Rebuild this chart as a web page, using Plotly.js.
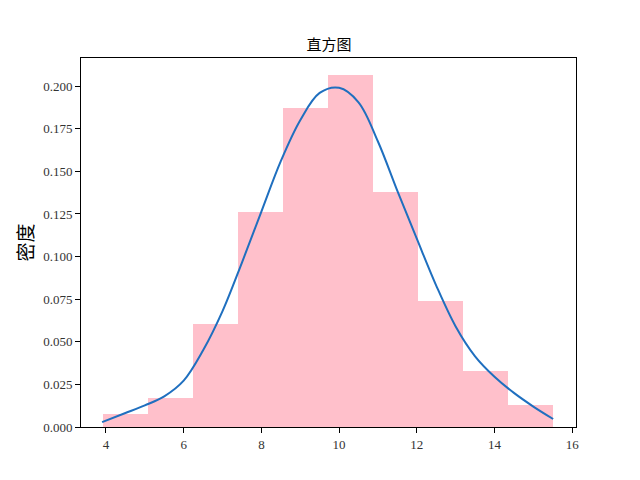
<!DOCTYPE html>
<html>
<head>
<meta charset="utf-8">
<script src="https://cdn.plot.ly/plotly-3.0.1.min.js"></script>
<style>
  html, body { margin: 0; padding: 0; background: #fff; }
  #chart { width: 640px; height: 480px; }
</style>
</head>
<body>
<div id="chart"></div>
<script>
// histogram bins (edges) and density per bin
const binEdges = [3.936, 5.094, 6.252, 7.410, 8.568, 9.726, 10.884, 12.042, 13.200, 14.358, 15.517];
const binDensity = [0.0076, 0.0170, 0.0603, 0.1262, 0.1872, 0.2066, 0.1381, 0.0739, 0.0327, 0.0131];

// kde curve
const kdeX = [3.90, 4.5, 5.0, 5.5, 6.0, 6.5, 7.0, 7.5, 8.0, 8.5, 9.0, 9.5, 10.0,
  10.5, 11.0, 11.5, 12.0, 12.5, 13.0, 13.5, 14.0, 14.5, 15.0, 15.51];
const kdeY = [0.0029, 0.0082, 0.0127, 0.0180, 0.0272, 0.0450, 0.0680, 0.0965, 0.1264, 0.1560, 0.1800, 0.1960, 0.1990,
  0.1905, 0.1675, 0.1385, 0.1105, 0.0830, 0.0590, 0.0415, 0.0295, 0.0200, 0.0120, 0.0047];

const yTicks = [0, 0.025, 0.05, 0.075, 0.1, 0.125, 0.15, 0.175, 0.2];
const xTicks = [4, 6, 8, 10, 12, 14, 16];

const binCenters = binDensity.map((d, i) => (binEdges[i] + binEdges[i + 1]) / 2);
const binWidths = binDensity.map((d, i) => binEdges[i + 1] - binEdges[i]);

const traces = [
  {
    type: 'bar',
    x: binCenters,
    y: binDensity,
    width: binWidths,
    marker: { color: '#ffc0cb', line: { width: 0 } },
    hoverinfo: 'y',
  },
  {
    type: 'scatter',
    mode: 'lines',
    x: kdeX,
    y: kdeY,
    line: { color: '#1f6fbf', width: 2, shape: 'spline', smoothing: 1 },
    hoverinfo: 'y',
  },
];

const tickFont = { family: 'Liberation Serif', size: 13, color: '#333' };

const layout = {
  width: 640,
  height: 480,
  showlegend: false,
  paper_bgcolor: '#fff',
  plot_bgcolor: '#fff',
  bargap: 0,
  margin: { l: 81, r: 64, t: 58, b: 53 },
  title: {
    text: '直方图',
    x: 0.514,
    xanchor: 'center',
    y: 0.907,
    yanchor: 'middle',
    font: { family: 'Noto Sans CJK SC, sans-serif', size: 15, color: '#000' },
  },
  xaxis: {
    range: [3.357, 16.098],
    tickvals: xTicks,
    ticktext: xTicks.map(String),
    ticks: 'outside',
    ticklen: 5,
    tickcolor: '#000',
    showgrid: false,
    zeroline: false,
    showline: true,
    linecolor: '#000',
    linewidth: 1,
    mirror: true,
    tickfont: tickFont,
  },
  yaxis: {
    range: [0, 0.2165],
    tickvals: yTicks,
    ticktext: yTicks.map((t) => t.toFixed(3)),
    ticks: 'outside',
    ticklen: 5,
    tickcolor: '#000',
    showgrid: false,
    zeroline: false,
    showline: true,
    linecolor: '#000',
    linewidth: 1,
    mirror: true,
    tickfont: tickFont,
    title: {
      text: '密度',
      standoff: 4,
      font: { family: 'Noto Sans CJK SC, sans-serif', size: 19, color: '#000' },
    },
  },
};

Plotly.newPlot('chart', traces, layout, { displayModeBar: false, staticPlot: true });
</script>
</body>
</html>
